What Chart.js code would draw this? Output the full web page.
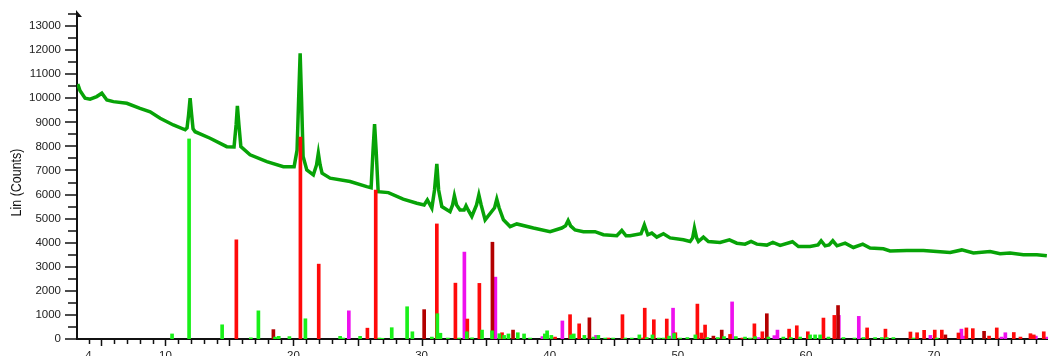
<!DOCTYPE html>
<html>
<head>
<meta charset="utf-8">
<script src="https://cdn.jsdelivr.net/npm/chart.js@4.4.1/dist/chart.umd.min.js"></script>
<style>
  html, body { margin: 0; padding: 0; background: #fff; }
  #wrap { width: 1048px; height: 356px; }
</style>
</head>
<body>
<div id="wrap"><canvas id="xrdChart" width="1048" height="356"></canvas></div>
<script>
const patternTheta = [
  3.16, 3.34, 3.73, 4.12, 4.64, 5.04, 5.43, 5.94, 6.99, 8.02, 8.81, 9.59, 10.62, 11.54, 11.69, 11.81, 11.93, 12.05, 12.16, 12.32,
  13.49, 14.79, 15.36, 15.52, 15.62, 15.74, 15.89, 16.61, 17.92, 19.21, 20.05, 20.28, 20.40, 20.52, 20.63, 20.75, 21.04, 21.55,
  21.80, 21.94, 22.08, 22.23, 22.86, 24.42, 25.72, 26.06, 26.21, 26.33, 26.45, 26.61, 27.41, 28.56, 29.63, 30.20, 30.45, 30.80,
  31.01, 31.19, 31.33, 31.58, 32.22, 32.42, 32.56, 32.73, 33.00, 33.32, 33.47, 33.63, 33.92, 34.29, 34.47, 34.65, 34.96, 35.70,
  35.87, 36.05, 36.39, 36.91, 37.43, 38.73, 40.03, 40.94, 41.24, 41.44, 41.63, 41.98, 42.63, 43.54, 44.19, 45.24, 45.63, 45.96,
  46.27, 47.13, 47.39, 47.66, 47.97, 48.36, 48.88, 49.40, 50.44, 50.96, 51.16, 51.30, 51.47, 51.61, 52.00, 52.39, 53.30, 54.03,
  54.61, 55.25, 55.72, 56.17, 56.95, 57.42, 57.99, 58.95, 59.42, 60.33, 60.95, 61.19, 61.50, 61.81, 62.10, 62.43, 63.06, 63.71,
  64.44, 65.01, 66.05, 66.57, 67.88, 69.17, 70.22, 71.26, 72.17, 73.08, 74.38, 75.16, 75.94, 76.98, 78.03, 78.81
];
const patternCounts = [
  10590, 10310, 10000, 9960, 10070, 10210, 9930, 9860, 9790, 9580, 9440, 9170, 8890, 8690, 8770, 9310, 10000, 9310, 8730, 8610,
  8340, 7990, 7980, 8890, 9680, 8890, 7990, 7650, 7370, 7160, 7160, 7850, 9930, 11870, 9930, 7580, 7020, 6820,
  7230, 7720, 7230, 6890, 6680, 6540, 6330, 6280, 7850, 8930, 7850, 6120, 6080, 5810, 5640, 5570, 5780, 5440,
  6190, 7270, 6190, 5500, 5290, 5570, 5950, 5570, 5360, 5360, 5530, 5360, 5090, 5570, 5990, 5570, 4950, 5450,
  5810, 5450, 4950, 4670, 4780, 4610, 4460, 4610, 4700, 4920, 4700, 4530, 4460, 4460, 4330, 4290, 4510, 4290,
  4290, 4370, 4740, 4330, 4400, 4230, 4370, 4200, 4120, 4050, 4200, 4610, 4200, 4050, 4230, 4050, 4010, 4120,
  3980, 3940, 4050, 3940, 3900, 4010, 3890, 4040, 3840, 3840, 3910, 4080, 3870, 3910, 4080, 3870, 3980, 3800,
  3940, 3780, 3750, 3660, 3680, 3680, 3630, 3590, 3700, 3570, 3630, 3540, 3570, 3500, 3500, 3460
];

// Reference patterns (stick positions and intensities)
const greenTheta = [
  10.52, 11.85, 14.43, 16.67, 17.26, 18.56, 18.85, 19.68, 20.93, 23.64, 23.87, 25.20, 26.71, 26.94, 27.67, 28.87, 29.28, 30.80,
  31.23, 31.47, 32.05, 32.93, 33.53, 33.94, 34.72, 35.50, 36.07, 36.44, 36.78, 37.51, 38.00, 38.47, 39.62, 39.80, 40.13, 41.67,
  41.88, 42.71, 43.41, 43.80, 44.33, 44.95, 45.89, 46.41, 47.00, 47.58, 48.02, 48.52, 48.88, 49.32, 49.71, 50.18, 50.75, 51.37,
  52.31, 53.12, 53.61, 54.53, 55.25, 55.64, 56.03, 57.07, 58.24, 58.82, 59.55, 60.33, 60.72, 61.11, 61.76, 62.93, 63.79, 64.49,
  65.40, 65.93, 66.32, 66.83, 68.39, 70.22
];
const greenCounts = [
  210, 8310, 590, 50, 1170, 80, 110, 100, 840, 110, 40, 110, 40, 30, 470, 1340, 300, 80,
  1050, 240, 40, 40, 300, 50, 370, 340, 220, 150, 210, 260, 210, 40, 210, 340, 150, 170,
  210, 150, 80, 150, 40, 40, 40, 40, 170, 60, 170, 40, 40, 120, 230, 40, 60, 170,
  60, 60, 100, 100, 80, 40, 100, 80, 80, 60, 80, 170, 170, 170, 80, 60, 40, 60,
  60, 60, 60, 60, 40, 40
];

const redTheta = [
  15.54, 20.54, 21.97, 25.77, 26.42, 31.19, 32.64, 33.57, 34.51, 36.28, 40.42, 41.59, 42.30, 44.58, 45.68, 47.19, 47.42, 48.13,
  49.14, 49.81, 51.53, 51.84, 52.13, 54.08, 55.04, 55.98, 56.60, 58.69, 59.29, 60.15, 61.37, 62.22, 64.78, 66.21, 68.16, 68.68,
  69.23, 70.06, 70.61, 71.91, 72.53, 73.03, 74.30, 74.90, 76.23, 76.75, 77.53, 77.79, 78.57
];
const redCounts = [
  4120, 8390, 3110, 450, 6190, 4780, 2320, 830, 2310, 260, 80, 1010, 630, 40, 1010, 40, 1280, 800,
  830, 260, 1450, 250, 580, 190, 40, 630, 300, 410, 550, 300, 870, 980, 460, 410, 290, 260,
  360, 370, 370, 250, 460, 430, 120, 460, 270, 80, 220, 170, 300
];

const darkRedTheta = [18.43, 30.20, 35.53, 37.14, 43.10, 52.78, 53.43, 56.95, 62.51, 70.89, 73.91];
const darkRedCounts = [390, 1220, 4020, 370, 880, 120, 370, 1050, 1390, 170, 320];

const magentaTheta = [
  24.32, 33.34, 35.76, 39.43, 40.99, 43.62, 49.63, 54.24, 56.29, 57.54, 57.78, 62.57, 64.13, 69.72, 72.14, 72.40, 75.27, 75.57,
  77.95, 78.83
];
const magentaCounts = [
  1170, 3610, 2570, 100, 750, 150, 1280, 1540, 60, 140, 370, 980, 940, 150, 410, 120, 80, 260,
  120, 80
];

const xTickLabels = [4, 10, 20, 30, 40, 50, 60, 70];
const yTickLabels = [0, 1000, 2000, 3000, 4000, 5000, 6000, 7000, 8000, 9000, 10000, 11000, 12000, 13000];
const yTitle = 'Lin (Counts)';

const fontFamily = '"Liberation Sans", Arial, sans-serif';
const axisColor = '#111';

function toPoints(xs, ys) {
  return xs.map((x, i) => ({ x: x, y: ys[i] }));
}

function stickSet(label, xs, ys, color) {
  return {
    type: 'bar',
    label: label,
    data: toPoints(xs, ys),
    backgroundColor: color,
    borderWidth: 0,
    barThickness: 3,
    grouped: false,
    order: 0
  };
}

// minor/major tick marks, the arrow on the y axis and the condensed y title
const axisMarks = {
  id: 'axisMarks',
  afterDraw(chart) {
    const ctx = chart.ctx;
    const xs = chart.scales.x;
    const ys = chart.scales.y;
    ctx.save();
    ctx.strokeStyle = axisColor;
    ctx.lineWidth = 1.5;
    ctx.beginPath();
    for (let v = ys.min; v <= ys.max; v += 500) {
      const py = Math.round(ys.getPixelForValue(v));
      const len = v % 1000 === 0 ? 12 : 9;
      ctx.moveTo(xs.left - len, py);
      ctx.lineTo(xs.left, py);
    }
    for (let v = Math.ceil(xs.min); v <= xs.max; v++) {
      const px = Math.round(xs.getPixelForValue(v)) + 0.5;
      const len = v % 5 === 0 ? 7 : 5;
      ctx.moveTo(px, ys.bottom);
      ctx.lineTo(px, ys.bottom + len);
    }
    ctx.stroke();

    // arrow head at top of y axis
    const ax = xs.left;
    const ay = ys.top;
    ctx.fillStyle = axisColor;
    ctx.beginPath();
    ctx.moveTo(ax - 1, ay - 4);
    ctx.lineTo(ax + 5, ay + 3);
    ctx.lineTo(ax - 1, ay + 3);
    ctx.closePath();
    ctx.fill();

    // y axis title, narrow face like the original
    ctx.translate(17, (ys.top + ys.bottom) / 2 + 6);
    ctx.rotate(-Math.PI / 2);
    ctx.scale(0.83, 1);
    ctx.fillStyle = '#111';
    ctx.font = '15px ' + fontFamily;
    ctx.textAlign = 'center';
    ctx.textBaseline = 'middle';
    ctx.fillText(yTitle, 0, 0);
    ctx.restore();
  }
};

function noPadding(scale) {
  scale.paddingTop = 0;
  scale.paddingBottom = 0;
  scale.paddingLeft = 0;
  scale.paddingRight = 0;
}

const ctx = document.getElementById('xrdChart').getContext('2d');
const xrdChart = new Chart(ctx, {
  type: 'bar',
  data: {
    datasets: [
      stickSet('Phase 1', greenTheta, greenCounts, '#19f019'),
      stickSet('Phase 2', redTheta, redCounts, '#ff0a0a'),
      stickSet('Phase 3', darkRedTheta, darkRedCounts, '#b30000'),
      stickSet('Phase 4', magentaTheta, magentaCounts, '#ee10ee'),
      {
        type: 'line',
        label: 'Sample',
        data: toPoints(patternTheta, patternCounts),
        borderColor: '#07a307',
        borderWidth: 3.5,
        pointRadius: 0,
        tension: 0,
        fill: false,
        order: 1
      }
    ]
  },
  options: {
    responsive: false,
    animation: false,
    devicePixelRatio: 1,
    layout: { padding: { top: 14, right: 0, bottom: 0, left: 0 } },
    plugins: {
      legend: { display: false },
      tooltip: { enabled: false }
    },
    scales: {
      x: {
        type: 'linear',
        min: 3.1,
        max: 78.9,
        offset: false,
        grid: { display: false, drawTicks: false },
        border: { display: true, color: axisColor, width: 2 },
        ticks: {
          autoSkip: false,
          maxRotation: 0,
          padding: 10,
          color: '#222',
          font: { family: fontFamily, size: 11.5 },
          callback: v => String(v)
        },
        afterBuildTicks: scale => { scale.ticks = xTickLabels.map(v => ({ value: v })); },
        afterFit: scale => { scale.height = 17; noPadding(scale); }
      },
      y: {
        min: 0,
        max: 13500,
        grid: { display: false, drawTicks: false },
        border: { display: true, color: axisColor, width: 2 },
        ticks: {
          padding: 16,
          color: '#222',
          font: { family: fontFamily, size: 11.5 },
          callback: v => String(v)
        },
        afterBuildTicks: scale => { scale.ticks = yTickLabels.map(v => ({ value: v })); },
        afterFit: scale => { scale.width = 77; noPadding(scale); }
      }
    }
  },
  plugins: [axisMarks]
});
</script>
</body>
</html>
